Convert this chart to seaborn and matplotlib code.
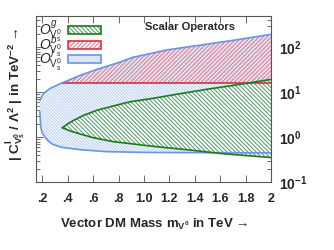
"""
Scalar operator exclusion bands for vector DM
"""

import numpy as np
import matplotlib
matplotlib.use("Agg")
import matplotlib.pyplot as plt
import seaborn as sns
from matplotlib.patches import Patch
from matplotlib.ticker import FixedLocator, LogLocator, NullFormatter

# blue band (O^l)
blue_up_x = [0.181, 0.21, 0.263, 0.357, 0.5, 0.63, 0.79, 0.91, 1.18, 1.44, 1.71, 2.0]
blue_up_y = [6.7, 9.5, 12.3, 16.3, 24, 32.5, 45, 60, 88, 112, 145, 195]
blue_lo_x = [0.181, 0.187, 0.2, 0.239, 0.28, 0.35, 0.5, 0.7, 1.05, 1.5, 2.0]
blue_lo_y = [3.7, 1.72, 1.23, 0.87, 0.7, 0.6, 0.53, 0.48, 0.46, 0.455, 0.45]

# red band (O^b) : flat floor, top follows the blue top
red_x = [0.357, 0.5, 0.63, 0.79, 0.91, 1.18, 1.44, 1.71, 2.0]
red_top = [16.3, 24, 32.5, 45, 60, 88, 112, 145, 195]
red_floor = 16.3

# green band (O^g)
green_up_x = [0.357, 0.40, 0.448, 0.526, 0.631, 0.76, 0.893, 1.05, 1.25, 1.494, 1.75, 2.0]
green_up_y = [1.63, 2.0, 2.4, 3.1, 4.0, 5.0, 6.2, 7.2, 9.0, 11.7, 15, 19.4]
green_lo_x = [0.357, 0.42, 0.5, 0.6, 0.76, 1.05, 1.363, 1.625, 2.0]
green_lo_y = [1.63, 1.38, 1.18, 0.98, 0.8, 0.64, 0.52, 0.43, 0.355]

x_ticks = [0.2, 0.4, 0.6, 0.8, 1.0, 1.2, 1.4, 1.6, 1.8, 2.0]
x_tick_labels = ['.2', '.4', '.6', '.8', '1.0', '1.2', '1.4', '1.6', '1.8', '2']
y_ticks = [0.1, 1, 10, 100]
y_tick_labels = [r'$\mathbf{10^{-1}}$', r'$\mathbf{10^{0}}$', r'$\mathbf{10^{1}}$', r'$\mathbf{10^{2}}$']
legend_labels = [r'$O^{g}_{\mathrm{V^0_s}}$', r'$O^{b}_{\mathrm{V^0_s}}$', r'$O^{l}_{\mathrm{V^0_s}}$']

# colours
green_line, green_hatch = '#1b7b1b', '#5f9f73'
red_line, red_hatch = '#d9303e', '#e8808f'
blue_line, blue_hatch = '#6b93e8', '#bcd2f5'

green_h = '\\' * 8
red_h = '/' * 8
blue_h = '\\' * 11

sns.set_style("ticks")
plt.rcParams['font.family'] = ['Liberation Sans', 'DejaVu Sans']
plt.rcParams['mathtext.fontset'] = 'custom'
plt.rcParams['mathtext.rm'] = 'Liberation Sans'
plt.rcParams['mathtext.it'] = 'Liberation Sans:italic'
plt.rcParams['mathtext.bf'] = 'Liberation Sans:bold'
plt.rcParams['hatch.linewidth'] = 0.8

fig = plt.figure(figsize=(3.34, 2.5), dpi=100)
ax = fig.add_axes([0.108, 0.271, 0.7036, 0.665])

# filled hatched bands
bx = np.concatenate([blue_up_x, blue_lo_x[::-1]])
by = np.concatenate([blue_up_y, blue_lo_y[::-1]])
ax.fill(bx, by, facecolor='white', edgecolor=blue_hatch, hatch=blue_h, lw=0)

ax.fill_between(red_x, red_floor, red_top, facecolor='none', edgecolor=red_hatch,
                hatch=red_h, lw=0)

gx = np.concatenate([green_up_x, green_lo_x[::-1]])
gy = np.concatenate([green_up_y, green_lo_y[::-1]])
ax.fill(gx, gy, facecolor='white', edgecolor=green_hatch, hatch=green_h, lw=0)

# outlines
lw = 1.2
sns.lineplot(x=red_x, y=[red_floor] * len(red_x), ax=ax, color=red_line, lw=lw)
sns.lineplot(x=blue_up_x, y=blue_up_y, ax=ax, color=blue_line, lw=lw)
sns.lineplot(x=blue_lo_x, y=blue_lo_y, ax=ax, color=blue_line, lw=lw,
             estimator=None, sort=False)
sns.lineplot(x=green_up_x, y=green_up_y, ax=ax, color=green_line, lw=lw)
sns.lineplot(x=green_lo_x, y=green_lo_y, ax=ax, color=green_line, lw=lw)

# axes
ax.set_yscale('log')
ax.set_xlim(0.151, 2.0)
ax.set_ylim(0.1, 500)
ax.xaxis.set_major_locator(FixedLocator(x_ticks))
ax.set_xticklabels(x_tick_labels, fontweight='bold', fontsize=9)
ax.yaxis.set_major_locator(FixedLocator(y_ticks))
ax.set_yticklabels(y_tick_labels, fontsize=10)
ax.yaxis.set_minor_locator(LogLocator(base=10, subs=np.arange(2, 10)))
ax.yaxis.set_minor_formatter(NullFormatter())
ax.tick_params(which='both', direction='in', left=True, right=True, top=True,
               bottom=True, labelleft=False, labelright=True, width=0.6,
               color='#555555')
ax.tick_params(which='major', length=5, pad=6)
ax.tick_params(axis='y', which='minor', length=3)
ax.tick_params(axis='x', which='major', pad=8)
for sp in ax.spines.values():
    sp.set_linewidth(0.8)
    sp.set_color('#555555')

ax.set_xlabel(r'Vector DM Mass m$_{\mathbf{V^0}}$ in TeV →', fontweight='bold',
              fontsize=9.5, labelpad=8)
fig.text(0.048, 0.622, r'| C$^{\mathbf{l}}_{\mathbf{V^0_s}}$ / Λ$^{\mathbf{2}}$ | in TeV$^{\mathbf{-2}}$ →',
         rotation=90, ha='center', va='center', fontweight='bold', fontsize=9.7)

ax.text(0.464, 0.934, 'Scalar Operators', transform=ax.transAxes,
        fontweight='bold', fontsize=8, va='center', ha='left')

# legend: hatch in light colour with a darker outline
handles = []
for lc, hc, h in [(green_line, green_hatch, green_h),
                  (red_line, red_hatch, red_h),
                  (blue_line, blue_hatch, blue_h)]:
    handles.append((Patch(facecolor='white', edgecolor=hc, hatch=h, lw=0),
                    Patch(facecolor='none', edgecolor=lc, lw=1.2)))
ax.legend(handles, legend_labels, loc='upper left', bbox_to_anchor=(-0.025, 1.035),
          frameon=False, markerfirst=False, fontsize=10, handlelength=2.4,
          handleheight=0.5, labelspacing=-0.8, handletextpad=0.45,
          borderaxespad=0.2)

fig.savefig('out.png', dpi=100)
plt.close(fig)
